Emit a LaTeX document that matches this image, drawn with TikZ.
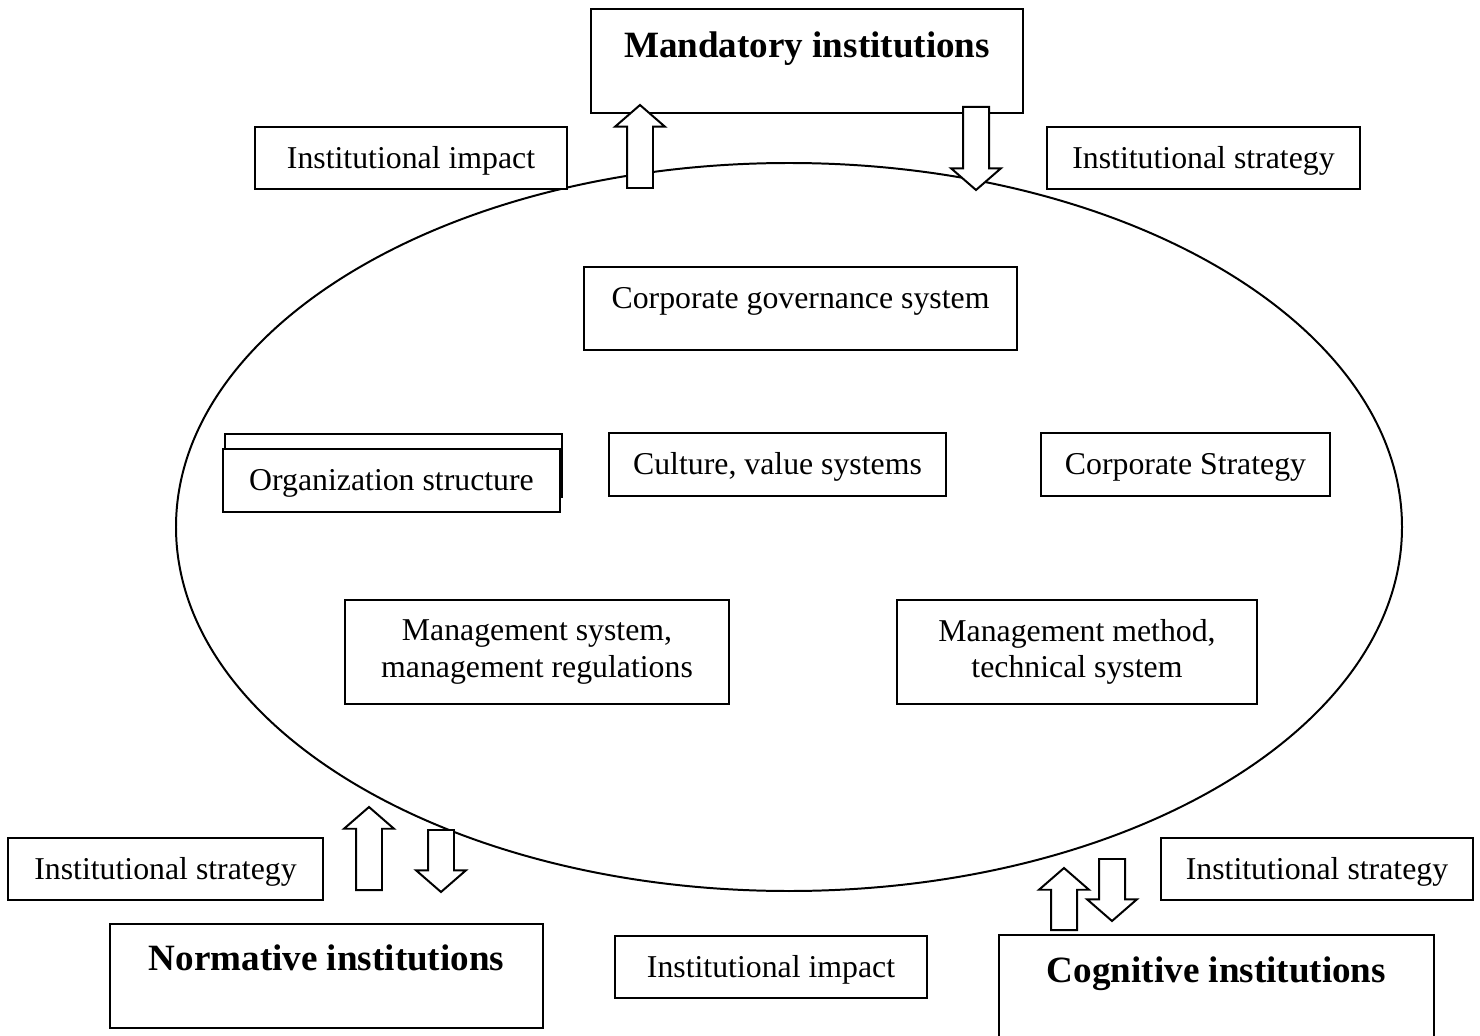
\documentclass[tikz,border=0pt]{standalone}
\usepackage{fontspec}
\setmainfont{Liberation Serif}
\usepackage{tikz}
\usetikzlibrary{shapes,arrows,positioning}
\newcommand{\unitpx}{0.3774pt}
\tikzset{
  font={\fontsize{12pt}{13.8pt}\selectfont},
  wh/.style 2 args={minimum width=#1*\unitpx, minimum height=#2*\unitpx}
}
\tikzstyle{line}=[draw, line width=0.75pt]
\tikzstyle{box}=[line, rectangle, fill=white, inner sep=0pt, align=center]
\tikzstyle{label}=[box, text height=10.5pt, text depth=2.6pt]
\tikzstyle{inst}=[box, anchor=base, font={\fontsize{14pt}{16pt}\selectfont\bfseries}]
\tikzstyle{arrowup}=[line, single arrow, fill=white, inner sep=4.53pt,
  single arrow head extend=4.53pt, single arrow tip angle=98, anchor=tail, shape border rotate=90]
\tikzstyle{arrowdown}=[arrowup, shape border rotate=270]

\begin{document}
\begin{tikzpicture}[x=\unitpx, y=-\unitpx]
\useasboundingbox (0,0) rectangle (1480,1036);

\node[line, ellipse, inner sep=0pt, wh={1226}{728}] (firm) at (789,527) {};

%%% Institutions
\node[inst, minimum width=432*\unitpx, text height=18.49pt, text depth=20.76pt] (mandatory) at (807,58) {Mandatory institutions};
\node[inst, minimum width=433*\unitpx, text height=17.36pt, text depth=21.89pt] (normative) at (326.5,970) {Normative institutions};
\node[inst, minimum width=435*\unitpx, text height=17.74pt, text depth=21.51pt] (cognitive) at (1216.5,982) {Cognitive institutions};

\node[label, wh={312}{62}] (impactTop) at (411,158) {Institutional impact};
\node[label, wh={313}{62}] (strategyTop) at (1203.5,158) {Institutional strategy};
\node[label, wh={315}{62}] (strategyLeft) at (165.5,869) {Institutional strategy};
\node[label, wh={312}{62}] (impactBottom) at (771,967) {Institutional impact};
\node[label, wh={312}{62}] (strategyRight) at (1317,869) {Institutional strategy};

%%% Enterprise
\node[box, anchor=base, minimum width=433*\unitpx, text height=15.47pt, text depth=15.85pt] (governance) at (800.5,308) {Corporate governance system};
\node[box, wh={337}{63}] (orgBack) at (393.5,465.5) {};
\node[label, wh={337}{63}] (org) at (391.5,480.5) {Organization structure};
\node[label, wh={337}{63}] (culture) at (777.5,464.5) {Culture, value systems};
\node[label, wh={289}{63}] (corpStrategy) at (1185.5,464.5) {Corporate Strategy};
\node[box, wh={384}{104}] (mgmtSystem) at (537,652) {Management system,\\management regulations};
\node[box, wh={360}{104}] (mgmtMethod) at (1077,652) {Management method,\\technical system};

%%% Arrows
\node[arrowup, minimum height=83*\unitpx] (impactUp) at (640,189) {};
\node[arrowdown, minimum height=83*\unitpx] (strategyDown) at (976,106) {};
\node[arrowup, minimum height=83*\unitpx] (normUp) at (369,891) {};
\node[arrowdown, minimum height=62*\unitpx] (normDown) at (441,829) {};
\node[arrowup, minimum height=62*\unitpx] (cogUp) at (1064,931) {};
\node[arrowdown, minimum height=62*\unitpx] (cogDown) at (1112,858) {};

\end{tikzpicture}
\end{document}
